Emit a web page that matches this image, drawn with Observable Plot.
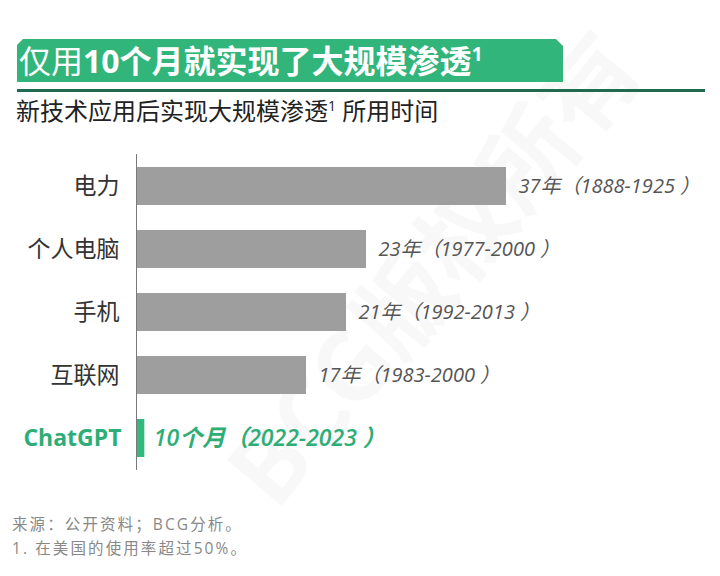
<!DOCTYPE html>
<html><head><meta charset="utf-8">
<script src="https://cdn.jsdelivr.net/npm/d3@7"></script>
<script src="https://cdn.jsdelivr.net/npm/@observablehq/plot@0.6"></script>
<style>
body{margin:0;width:720px;height:576px;position:relative;overflow:hidden;background:#fff;font-family:"Open Sans","Noto Sans CJK SC",sans-serif;}
#wm{position:absolute;left:430px;top:265px;font-size:96px;line-height:110px;font-weight:700;color:rgba(0,0,0,0.028);transform:translate(-50%,-50%) rotate(-50deg);white-space:nowrap;font-family:"Noto Sans CJK SC",sans-serif;}
#banner{position:absolute;left:17px;top:39px;width:546px;height:43px;background:#31b57b;clip-path:polygon(6px 0,539px 0,546px 7px,546px 100%,0 100%,0 6px);}
#title{position:absolute;left:19px;top:39px;height:43px;line-height:43px;color:#fff;font-size:32px;font-weight:700;white-space:nowrap;font-family:"Open Sans","Noto Sans CJK SC",sans-serif;}
#title sup{font-size:19px;vertical-align:0;position:relative;top:-12px;}
#rule{position:absolute;left:17px;top:89px;width:688px;height:3px;background:#1f6b4f;}
#subtitle{position:absolute;left:16px;top:96px;font-size:24px;line-height:30px;color:#222;white-space:nowrap;font-family:"Open Sans","Noto Sans CJK SC",sans-serif;}
#subtitle sup{font-size:14px;vertical-align:0;position:relative;top:-9px;}
#chart{position:absolute;left:0;top:140px;}
.note{position:absolute;left:12px;font-size:15.5px;line-height:18px;height:18px;letter-spacing:2.1px;color:#888;white-space:nowrap;}
</style>
</head><body>
<div id="wm">BCG版权所有</div>
<div id="banner"></div>
<div id="title"><span style="font-weight:400">仅用</span>10个月就实现了大规模渗透<sup>1</sup></div>
<div id="rule"></div>
<div id="subtitle">新技术应用后实现大规模渗透<sup>1</sup> 所用时间</div>
<div id="chart"></div>
<div class="note" style="top:515px">来源：公开资料；BCG分析。</div>
<div class="note" style="top:539px">1. 在美国的使用率超过50%。</div>
<script>
const categories = ["电力", "个人电脑", "手机", "互联网", "ChatGPT"];
const durationYears = [37, 23, 21, 17, 10 / 12];
const valueLabels = ["37年（1888-1925 ）", "23年（1977-2000 ）", "21年（1992-2013 ）", "17年（1983-2000 ）", "10个月（2022-2023 ）"];
const highlighted = [false, false, false, false, true];

const rows = categories.map((c, i) => ({name: c, value: durationYears[i], label: valueLabels[i], hi: highlighted[i]}));
const base = rows.filter(d => !d.hi);
const hi = rows.filter(d => d.hi);
const green = "#2eae76";

const chart = Plot.plot({
  width: 720,
  height: 340,
  marginLeft: 136,
  marginRight: 84,
  marginTop: 14,
  marginBottom: 10,
  style: {fontFamily: "'Open Sans','Noto Sans CJK SC',sans-serif", background: "transparent"},
  x: {domain: [0, 50], axis: null},
  y: {domain: categories, axis: null, paddingInner: 0.39, paddingOuter: 0.19},
  marks: [
    Plot.barX(base, {x: "value", y: "name", fill: "#9e9e9e"}),
    Plot.barX(hi, {x: "value", y: "name", fill: "#33b77c"}),
    Plot.ruleX([0], {stroke: "#7a7a7a", strokeWidth: 1}),
    Plot.text(base, {x: "value", y: "name", text: "label", dx: 12, textAnchor: "start", fontStyle: "italic", fontSize: 20, fill: "#555"}),
    Plot.text(hi, {x: "value", y: "name", text: "label", dx: 9, textAnchor: "start", fontStyle: "italic", fontWeight: 600, fontSize: 23, fill: green}),
    Plot.text(base, {x: 0, y: "name", text: "name", dx: -17, textAnchor: "end", fontSize: 23, fill: "#333"}),
    Plot.text(hi, {x: 0, y: "name", text: "name", dx: -15, textAnchor: "end", fontSize: 23, fontWeight: 700, fill: green})
  ]
});
document.getElementById("chart").appendChild(chart);
</script>
</body></html>
